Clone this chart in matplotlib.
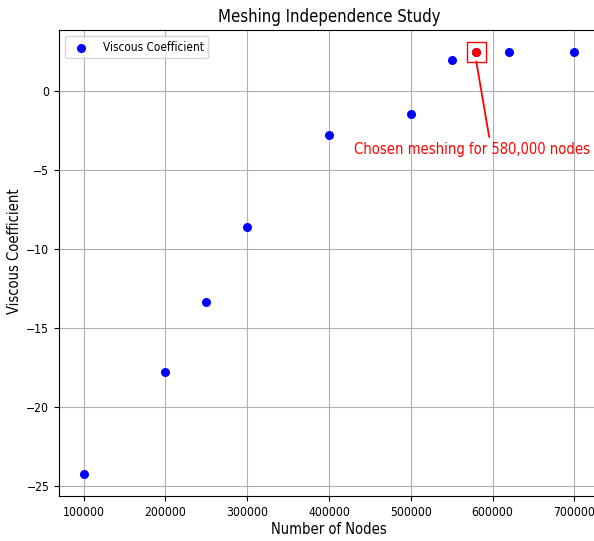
import matplotlib
matplotlib.use('Agg')
import matplotlib.pyplot as plt

nodes = [100000, 200000, 250000, 300000, 400000, 500000, 550000, 580000, 620000, 700000]
visc = [-24.25, -17.8, -13.35, -8.65, -2.8, -1.5, 1.95, 2.45, 2.45, 2.45]
chosen_x = 580000
chosen_y = 2.45

plt.rcParams['font.family'] = 'DejaVu Sans'
plt.rcParams['font.stretch'] = 'condensed'

fig = plt.figure(figsize=(5.94, 5.41), dpi=100)
ax = fig.add_axes([59 / 594, 45 / 541, 540 / 594, 466 / 541])

ax.scatter(nodes, visc, color='blue', s=30, label='Viscous Coefficient', zorder=3)
ax.scatter([chosen_x], [chosen_y], color='red', s=30, zorder=4)
ax.scatter([chosen_x], [chosen_y], marker='s', s=190, facecolors='none',
           edgecolors='red', linewidths=1, zorder=4)

ax.annotate('Chosen meshing for 580,000 nodes', xy=(chosen_x, chosen_y - 0.6),
            xytext=(575000, -3.75), color='red', fontsize=10.5,
            ha='center', va='center',
            arrowprops=dict(arrowstyle='-', color='red', lw=1.3, shrinkA=2, shrinkB=0,
                            relpos=(0.576, 1.0)))

ax.set_xlim(70000, 730000)
ax.set_ylim(-25.64, 3.84)
ax.grid(True, color='#b0b0b0', lw=0.8)
ax.set_axisbelow(True)

ax.set_title('Meshing Independence Study', fontsize=12)
ax.set_xlabel('Number of Nodes', fontsize=10.5, labelpad=2)
ax.set_ylabel('Viscous Coefficient', fontsize=10.5)
ax.yaxis.set_label_coords(-0.068, 0.526)
ax.tick_params(labelsize=8.7)

leg = ax.legend(loc='upper left', fontsize=8.5)

fig.savefig('out.png', dpi=100)
